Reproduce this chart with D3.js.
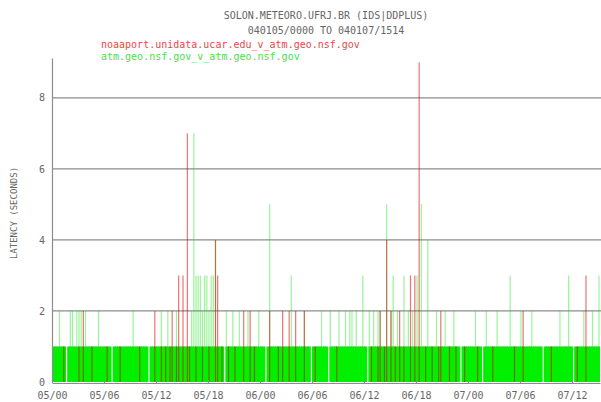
<!DOCTYPE html>
<html>
<head>
<meta charset="utf-8">
<script src="https://cdn.jsdelivr.net/npm/d3@7"></script>
<style>
body { margin: 0; background: #fff; }
svg { display: block; }
text { font-family: "DejaVu Sans Mono", "Liberation Mono", monospace; }
</style>
</head>
<body>
<div class="chart"></div>
<script>
var titleLines = ["SOLON.METEORO.UFRJ.BR (IDS|DDPLUS)", "040105/0000 TO 040107/1514"];
var seriesNames = ["noaaport.unidata.ucar.edu_v_atm.geo.nsf.gov", "atm.geo.nsf.gov_v_atm.geo.nsf.gov"];
var xTickLabels = ["05/00", "05/06", "05/12", "05/18", "06/00", "06/06", "06/12", "06/18", "07/00", "07/06", "07/12"];
var yTicks = [0, 2, 4, 6, 8];
var stepMinutes = 15;

// latency in seconds, one value per 15 minutes starting 040105/0000
var greenLatency = [
	1,1,1,2,1,1,0,1,2,2,1,2,2,2,1,2,1,1,1,1,1,2,1,1,
	1,1,1,0,1,1,1,1,1,1,1,1,1,2,1,1,1,1,1,1,0,1,1,1,
	1,1,2,1,1,2,1,1,1,2,1,1,1,1,1,1,2,7,3,3,3,2,3,3,
	2,3,3,4,1,1,1,0,2,1,1,2,1,1,2,1,1,1,2,1,1,1,1,2,
	1,1,0,1,5,1,1,1,1,1,1,1,1,1,3,1,1,1,1,1,2,1,1,0,
	1,1,1,1,2,1,1,0,2,1,1,1,2,1,1,2,1,2,2,1,2,1,1,3,
	1,0,2,1,2,1,2,2,1,1,5,1,2,3,1,2,1,1,3,1,2,1,2,1,
	3,1,5,1,1,4,1,1,1,2,1,1,1,2,1,1,1,2,1,1,0,1,1,1,
	1,1,1,2,1,1,0,1,2,1,1,1,1,2,1,1,1,1,1,3,1,1,1,1,
	2,1,1,1,1,2,1,1,1,1,0,1,1,1,1,1,1,1,2,1,1,1,3,1,
	0,1,1,1,1,2,1,1,1,2,1,1,3
];
var redLatency = [
	0,0,0,0,0,1,0,0,0,0,0,0,1,0,2,0,0,0,1,0,0,0,0,0,
	0,1,0,0,0,0,0,1,0,0,0,0,0,0,0,0,1,0,0,0,0,0,0,2,
	0,0,1,0,1,0,1,2,0,1,3,0,3,0,7,1,0,0,1,0,0,1,0,0,
	1,0,0,4,3,0,1,0,0,1,0,0,1,0,0,0,2,0,0,2,0,1,0,0,
	0,0,0,0,2,0,0,0,1,0,2,0,0,2,0,0,2,0,0,0,2,0,0,0,
	0,1,0,0,0,0,0,0,0,0,0,1,0,0,0,0,0,0,0,0,0,0,0,0,
	0,0,0,1,0,0,1,2,0,1,4,0,2,0,1,0,2,0,1,0,0,3,0,3,
	0,9,0,0,1,0,0,1,0,0,1,2,0,0,0,1,0,0,1,0,0,0,1,0,
	0,0,0,0,1,0,0,0,0,0,0,1,0,0,0,0,0,0,0,0,0,1,0,0,
	0,2,0,0,0,0,0,0,0,0,0,0,0,0,1,0,0,0,0,0,0,0,0,0,
	0,0,1,0,0,0,3,0,0,0,0,0,0
];

var width = 601, height = 402;
var margin = {top: 58, right: 1, bottom: 20, left: 52};
var start = new Date(2004, 0, 5, 0, 0);
var end = new Date(2004, 0, 7, 15, 14);

var canvas = d3.select(".chart")
	.append("svg")
	.attr("width", width)
	.attr("height", height);

var x = d3.scaleTime()
	.domain([start, end])
	.range([margin.left, 600]);

var y = d3.scaleLinear()
	.domain([0, 9.12])
	.range([382, margin.top]);

function toPoints(values) {
	return values.map(function(v, i) {
		return {time: d3.timeMinute.offset(start, i * stepMinutes), value: v};
	});
}
var green = toPoints(greenLatency);
var red = toPoints(redLatency);

// title + legend text
canvas.selectAll(".title")
	.data(titleLines)
	.enter().append("text")
	.attr("x", 326)
	.attr("y", function(d, i) { return 19 + i * 15; })
	.attr("text-anchor", "middle")
	.attr("font-size", "10px")
	.attr("fill", "#666")
	.text(function(d) { return d; });

canvas.selectAll(".legend")
	.data(seriesNames)
	.enter().append("text")
	.attr("x", 101)
	.attr("y", function(d, i) { return 48 + i * 12; })
	.attr("font-size", "10px")
	.attr("fill", function(d, i) { return i == 0 ? "#e84848" : "#4ade4a"; })
	.text(function(d) { return d; });

// gridlines
canvas.selectAll(".grid")
	.data(yTicks.filter(function(d) { return d > 0; }))
	.enter().append("line")
	.attr("x1", margin.left)
	.attr("x2", width)
	.attr("y1", function(d) { return y(d); })
	.attr("y2", function(d) { return y(d); })
	.attr("stroke", "#8c8c8c")
	.attr("stroke-width", 1.2);

var plot = canvas.append("g");

// solid band up to 1 s (overlaps the next sample so zero gaps stay thin)
plot.selectAll(".band")
	.data(green.filter(function(d) { return d.value > 0; }))
	.enter().append("rect")
	.attr("x", function(d) { return x(d.time); })
	.attr("width", function(d) { return Math.min(x(d3.timeMinute.offset(d.time, stepMinutes)) + 1, 600) - x(d.time); })
	.attr("y", function(d) { return y(Math.min(d.value, 1)); })
	.attr("height", function(d) { return y(0) - y(Math.min(d.value, 1)); })
	.attr("fill", "#00f000");

// green spikes above 1 s
plot.selectAll(".gspike")
	.data(green.filter(function(d) { return d.value > 1; }))
	.enter().append("line")
	.attr("x1", function(d) { return x(d.time) + 1; })
	.attr("x2", function(d) { return x(d.time) + 1; })
	.attr("y1", y(1))
	.attr("y2", function(d) { return y(d.value); })
	.attr("stroke", "#00e000")
	.attr("stroke-opacity", 0.4)
	.attr("stroke-width", 1.2);

plot.selectAll(".rspike")
	.data(red.filter(function(d) { return d.value > 0; }))
	.enter().append("line")
	.attr("x1", function(d) { return x(d.time) + 1; })
	.attr("x2", function(d) { return x(d.time) + 1; })
	.attr("y1", y(0))
	.attr("y2", function(d) { return y(d.value); })
	.attr("stroke", "#d80000")
	.attr("stroke-opacity", 0.55)
	.attr("stroke-width", 1.2);

// axes
var tickTimes = xTickLabels.map(function(d, i) { return d3.timeHour.offset(start, i * 6); });

var xAxis = canvas.append("g")
	.attr("transform", "translate(0,383)")
	.call(d3.axisBottom(x)
		.tickValues(tickTimes)
		.tickFormat(function(d, i) { return xTickLabels[i]; })
		.tickSizeInner(-3)
		.tickSizeOuter(0)
		.tickPadding(9));

var yAxis = canvas.append("g")
	.attr("transform", "translate(" + margin.left + ",0)")
	.call(d3.axisLeft(y)
		.tickValues(yTicks)
		.tickSize(0)
		.tickPadding(7));

[xAxis, yAxis].forEach(function(a) {
	a.select(".domain").attr("stroke", "#8c8c8c").attr("stroke-width", 1.2);
	a.selectAll(".tick line").attr("stroke", "#8c8c8c");
	a.selectAll("text")
		.attr("font-family", "DejaVu Sans Mono, monospace")
		.attr("font-size", "10px")
		.attr("fill", "#666");
});

canvas.append("text")
	.attr("transform", "translate(17," + 213 + ") rotate(-90)")
	.attr("text-anchor", "middle")
	.attr("font-size", "9px")
	.attr("fill", "#666")
	.text("LATENCY (SECONDS)");
</script>
</body>
</html>
